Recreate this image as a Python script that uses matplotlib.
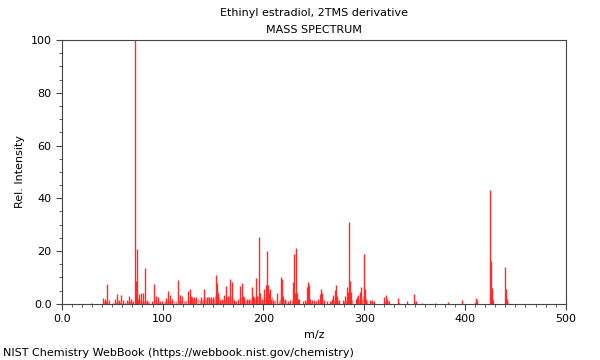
import matplotlib
matplotlib.use("Agg")
import matplotlib.pyplot as plt
from matplotlib.ticker import MultipleLocator, FuncFormatter

# peaks: m/z and relative intensity
mz = [29, 41, 43, 44, 45, 47, 53, 55, 57, 59, 61, 65, 67, 69, 71,
      73, 74, 75, 76, 77, 79, 81, 83, 85, 89, 91, 93, 95, 97, 99,
      103, 105, 107, 109, 115, 117, 119, 125, 127, 128, 129, 131, 133,
      138, 141, 144, 146, 148, 150, 153, 154, 155, 157, 159, 161, 163, 165,
      167, 169, 171, 173, 175, 177, 179, 180, 181, 184, 186, 189, 190, 191,
      193, 194, 196, 197, 199, 201, 203, 204, 205, 206, 207, 208, 210, 213,
      217, 218, 219, 221, 224, 226, 229, 230, 231, 232, 233, 234, 235, 239,
      241, 243, 244, 245, 246, 248, 250, 252, 254, 256, 257, 258, 260, 263,
      266, 268, 269, 271, 272, 273, 275, 279, 281, 283, 284, 285, 286, 287,
      292, 293, 294, 296, 297, 300, 301, 302, 306, 308, 310, 320, 322, 323,
      325, 334, 342, 349, 351, 357, 370, 383, 397, 411, 412, 425, 426, 427,
      428, 440, 441, 442]
intensity = [0.3, 2.1, 1.7, 1.2, 7.6, 1.5, 2.0, 3.8, 1.5, 3.3, 1.5, 1.5, 3.0, 2.0, 1.0,
             100, 8.8, 20.7, 2.0, 3.8, 4.2, 4.0, 13.4, 1.5, 1.0, 7.5, 3.0, 2.5, 1.0, 1.0,
             2.3, 5.0, 3.5, 2.0, 9.0, 3.5, 3.0, 5.0, 5.7, 3.0, 2.5, 2.5, 2.5,
             2.5, 5.5, 2.5, 2.5, 2.5, 2.5, 11.0, 7.8, 4.0, 1.5, 2.0, 3.5, 6.8, 3.0,
             9.5, 8.3, 1.5, 1.0, 2.0, 6.7, 8.0, 3.0, 2.5, 2.0, 2.0, 6.4, 3.0, 2.5,
             9.9, 3.0, 25.2, 4.0, 2.0, 5.5, 7.0, 20.0, 7.0, 4.0, 5.5, 2.0, 1.5, 4.0,
             10.3, 9.5, 3.0, 2.0, 1.0, 1.5, 8.3, 18.8, 4.0, 21.2, 4.0, 2.0, 2.0, 1.0,
             1.5, 6.2, 8.3, 7.0, 2.0, 1.5, 1.5, 1.0, 2.0, 3.8, 5.7, 4.2, 1.5, 1.0,
             1.0, 2.0, 3.5, 5.2, 7.2, 3.0, 1.5, 1.5, 2.8, 6.3, 4.4, 31.2, 8.8, 4.4,
             2.0, 2.5, 3.5, 4.5, 6.3, 18.7, 5.5, 2.0, 1.5, 1.5, 1.0, 2.5, 3.5, 2.0,
             1.0, 2.4, 1.0, 3.6, 1.0, 0.5, 0.3, 0.8, 1.5, 2.4, 1.3, 43.2, 16.3, 6.0,
             1.5, 13.8, 5.7, 2.0]

# minor background peaks between the main ones
mz_minor = [42, 51, 54, 56, 58, 63, 66, 68, 70, 78, 80, 82, 84, 86, 87, 92, 94,
            96, 101, 102, 104, 106, 108, 111, 113, 116, 118, 121, 122, 123, 126,
            130, 132, 135, 137, 139, 140, 142, 143, 145, 147, 149, 151, 152, 156,
            158, 160, 162, 164, 166, 168, 170, 172, 178, 182, 183, 185, 187, 188,
            192, 195, 198, 200, 202, 209, 211, 212, 215, 216, 220, 222, 228, 242,
            247, 255, 259, 267, 270, 274, 280, 282, 288, 295, 298, 299, 303, 307,
            309, 321, 324, 335, 350, 409, 410, 443]
int_minor = [1.0, 0.8, 0.8, 1.2, 0.8, 0.8, 1.0, 1.2, 0.8, 1.5, 1.0, 1.2, 1.0, 0.8, 0.6, 1.5, 0.8,
             0.8, 0.8, 1.2, 1.5, 1.5, 1.2, 1.0, 1.0, 1.5, 1.5, 1.0, 1.2, 1.5, 2.0,
             2.0, 2.0, 2.0, 1.5, 1.5, 2.0, 2.5, 2.0, 2.5, 2.0, 2.0, 2.0, 3.0, 2.5,
             1.5, 1.5, 2.0, 2.5, 3.0, 3.0, 2.0, 1.0, 2.5, 1.5, 1.5, 1.5, 1.5, 2.0,
             2.0, 3.0, 1.5, 1.5, 2.5, 2.5, 1.2, 1.5, 1.2, 2.0, 1.5, 1.0, 1.5, 1.0,
             1.2, 1.0, 1.5, 1.2, 1.5, 1.5, 1.0, 1.5, 1.5, 1.5, 2.0, 3.0, 1.2, 1.0,
             0.8, 1.2, 1.2, 0.8, 1.0, 0.5, 0.8, 0.8]

plt.rcParams['font.family'] = 'DejaVu Sans'
fig = plt.figure(figsize=(6, 3.6), dpi=100)
ax = fig.add_axes([0.103, 0.156, 0.84, 0.733])

ax.vlines(mz_minor, 0, int_minor, color='#ff5050', linewidth=1.0, alpha=0.7)
ax.vlines(mz, 0, intensity, color='#ff2a2a', linewidth=1.0)

ax.set_xlim(0, 500)
ax.set_ylim(0, 100)
ax.xaxis.set_major_locator(MultipleLocator(100))
ax.xaxis.set_minor_locator(MultipleLocator(10))
ax.yaxis.set_major_locator(MultipleLocator(20))
ax.yaxis.set_minor_locator(MultipleLocator(5))
fmt = FuncFormatter(lambda v, p: "0.0" if v == 0 else "%d" % v)
ax.xaxis.set_major_formatter(fmt)
ax.yaxis.set_major_formatter(fmt)
ax.tick_params(which='both', direction='out', labelsize=8, color='#444444')
ax.tick_params(which='major', length=4)
ax.tick_params(which='minor', length=2.5)
for s in ax.spines.values():
    s.set_color('#444444')
    s.set_linewidth(0.8)

ax.set_xlabel("m/z", fontsize=8)
ax.set_ylabel("Rel. Intensity", fontsize=8)
fig.text(0.523, 0.965, "Ethinyl estradiol, 2TMS derivative", ha='center', va='center', fontsize=8)
fig.text(0.523, 0.917, "MASS SPECTRUM", ha='center', va='center', fontsize=8)
fig.text(0.005, 0.02, "NIST Chemistry WebBook (https://webbook.nist.gov/chemistry)", ha='left', va='center', fontsize=8)

fig.savefig("out.png", dpi=100)
